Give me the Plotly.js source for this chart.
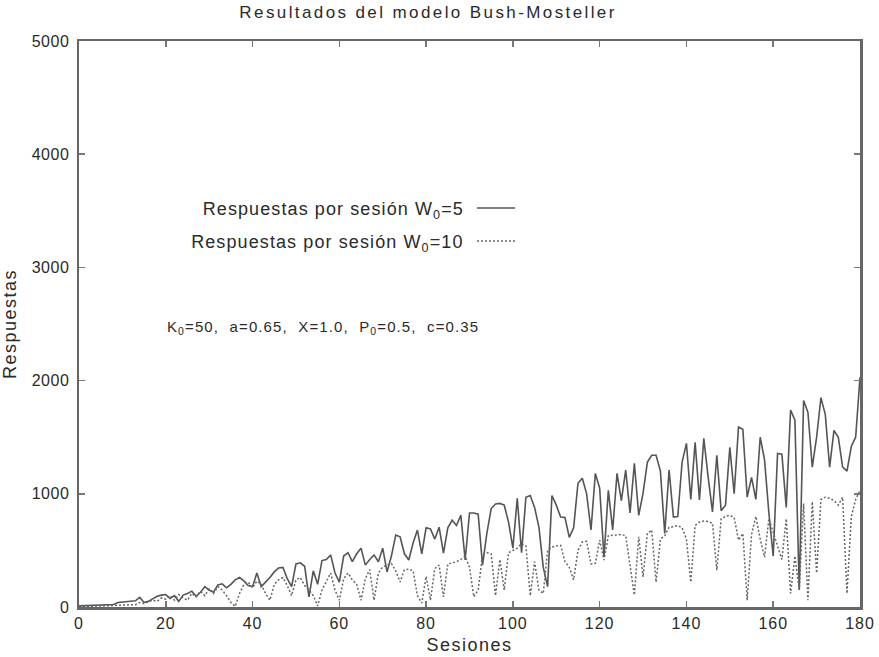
<!DOCTYPE html>
<html>
<head>
<meta charset="utf-8">
<script src="https://cdn.plot.ly/plotly-3.0.1.min.js"></script>
<style>
html,body{margin:0;padding:0;background:#fff;}
#chart{width:879px;height:657px;}
#chart .gtitle{letter-spacing:2.4px;}
#chart .xtick text{letter-spacing:1px;}
#chart .ytick text{letter-spacing:0.5px;}
#chart .xtitle,#chart .ytitle{letter-spacing:1.5px;}
#chart .annotation-text{letter-spacing:1.1px;}
</style>
</head>
<body>
<div id="chart"></div>
<script>
// Sessions 0..180
var sesiones = [];
for (var i = 0; i <= 180; i++) sesiones.push(i);

// Respuestas por sesión W0=5 (solid)
var respW5 = [
  10,12,15,15,18,18,20,20,22,40,
  45,50,50,55,85,40,50,75,95,105,
  110,75,100,50,105,120,140,95,130,180,
  150,130,195,205,170,200,240,260,230,190,
  180,300,180,220,260,310,345,350,250,180,
  380,390,360,90,320,200,410,420,460,300,
  220,450,480,400,470,520,370,420,460,400,
  520,310,450,635,620,470,415,565,680,470,
  700,690,600,705,476,700,767,720,811,415,
  830,830,820,370,650,870,910,915,900,750,
  520,960,480,970,985,880,705,350,180,985,
  900,795,790,615,700,1093,1137,1000,680,1180,
  1050,440,1030,680,1180,940,1210,830,1270,810,
  1005,1280,1340,1340,1200,650,1210,795,800,1280,
  1445,950,1455,945,1490,1150,840,1340,850,900,
  1410,1000,1590,1570,970,1145,950,1500,1300,830,
  450,1356,1350,880,1740,1650,150,1825,1720,1235,
  1500,1850,1700,1235,1560,1500,1235,1200,1420,1500,
  2030
];

// Respuestas por sesión W0=10 (dashed)
var respW10 = [
  5,5,8,8,10,10,10,12,12,15,
  15,18,20,20,40,30,45,60,50,80,
  70,100,60,110,80,60,120,90,140,100,
  160,120,180,150,100,40,5,120,200,220,
  170,230,200,120,60,200,240,260,190,100,
  240,260,190,150,100,10,150,220,300,150,
  60,250,300,240,200,60,250,330,60,300,
  355,370,385,320,220,330,335,320,100,35,
  270,60,340,370,90,380,390,400,420,450,
  350,90,150,460,480,470,100,420,150,480,
  500,520,560,540,100,400,150,120,500,530,
  540,545,400,350,240,500,575,580,380,385,
  590,415,630,635,640,640,630,350,105,620,
  265,650,680,220,600,630,705,710,720,700,
  600,220,720,750,760,755,740,325,780,800,
  810,790,590,650,60,640,800,600,440,780,
  650,540,420,780,120,450,150,915,60,930,
  300,950,970,960,940,900,970,120,800,950,
  1030
];

var xTicks = [0,20,40,60,80,100,120,140,160,180];
var yTicks = [0,1000,2000,3000,4000,5000];

var lineCol = '#555';
var font = 'Liberation Sans, Arial, sans-serif';
var txtCol = '#2a2a2a';

var traces = [
  {x: sesiones, y: respW5, mode: 'lines', name: 'Respuestas por sesión W0=5',
   line: {color: lineCol, width: 1.6}, showlegend: false},
  {x: sesiones, y: respW10, mode: 'lines', name: 'Respuestas por sesión W0=10',
   line: {color: '#666', width: 1.5, dash: '2px,2px'}, showlegend: false}
];

var axisCommon = {
  showline: true, linecolor: '#666', linewidth: 2.5, mirror: 'ticks',
  ticks: 'inside', ticklen: 6, tickcolor: '#777', tickwidth: 1.5,
  showgrid: false, zeroline: false,
  tickfont: {family: font, size: 16, color: txtCol}
};

function px2x(px){ return (px - 79) / 781; }
function px2y(py){ return (607 - py) / 566; }

var layout = {
  width: 879, height: 657,
  margin: {l: 79, r: 19, t: 41, b: 50},
  paper_bgcolor: '#fff', plot_bgcolor: '#fff',
  font: {family: font, color: txtCol},
  title: {text: 'Resultados del modelo Bush-Mosteller', x: 0.487, xref: 'container',
          y: 0.99, yref: 'container', yanchor: 'top',
          font: {family: font, size: 17, color: txtCol}},
  xaxis: Object.assign({}, axisCommon, {
    range: [0, 180], tickvals: xTicks, ticktext: xTicks.map(String),
    title: {text: 'Sesiones', font: {family: font, size: 18, color: txtCol}, standoff: 8}
  }),
  yaxis: Object.assign({}, axisCommon, {
    range: [0, 5000], tickvals: yTicks, ticktext: yTicks.map(String),
    ticklabelstandoff: 4,
    title: {text: 'Respuestas', font: {family: font, size: 18, color: txtCol}, standoff: 14}
  }),
  annotations: [
    {xref: 'paper', yref: 'paper', x: px2x(333), y: px2y(210), xanchor: 'center', yanchor: 'middle',
     text: 'Respuestas por sesión W<sub>0</sub>=5', showarrow: false,
     font: {family: font, size: 18, color: txtCol}},
    {xref: 'paper', yref: 'paper', x: px2x(327), y: px2y(243), xanchor: 'center', yanchor: 'middle',
     text: 'Respuestas por sesión W<sub>0</sub>=10', showarrow: false,
     font: {family: font, size: 18, color: txtCol}},
    {xref: 'paper', yref: 'paper', x: px2x(323), y: px2y(327), xanchor: 'center', yanchor: 'middle',
     text: 'K<sub>0</sub>=50,  a=0.65,  X=1.0,  P<sub>0</sub>=0.5,  c=0.35', showarrow: false,
     font: {family: font, size: 15, color: txtCol}}
  ],
  shapes: [
    {type: 'line', xref: 'paper', yref: 'paper', x0: px2x(477), x1: px2x(515), y0: px2y(208), y1: px2y(208),
     line: {color: lineCol, width: 1.5}},
    {type: 'line', xref: 'paper', yref: 'paper', x0: px2x(477), x1: px2x(515), y0: px2y(241), y1: px2y(241),
     line: {color: '#666', width: 1.5, dash: '2px,2px'}}
  ]
};

Plotly.newPlot('chart', traces, layout, {displayModeBar: false, staticPlot: true});
</script>
</body>
</html>
